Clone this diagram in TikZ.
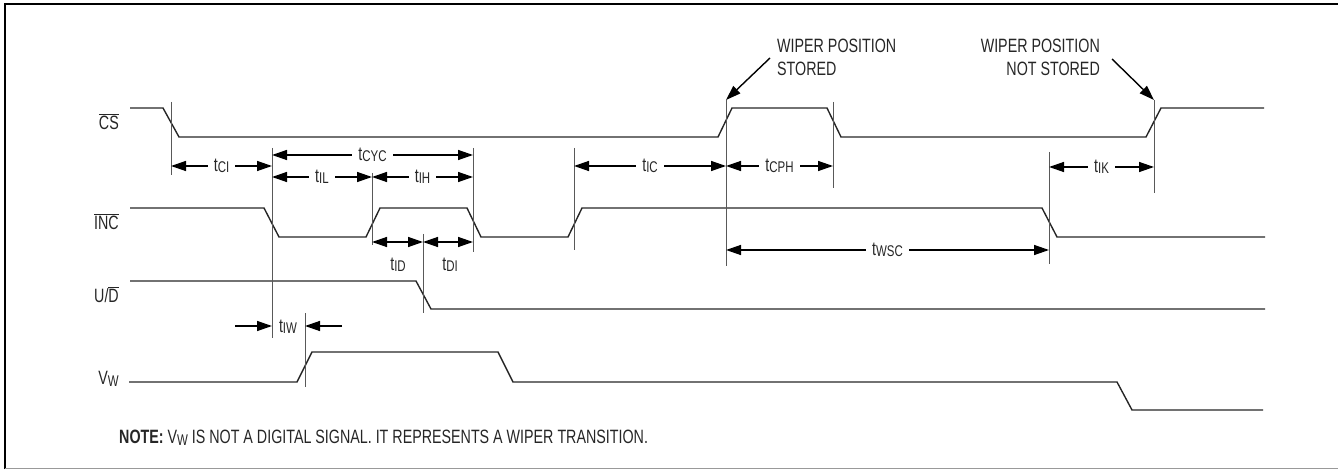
\documentclass[tikz,border=0pt]{standalone}
\usepackage{fontspec}
\setmainfont{Liberation Sans}[FakeStretch=0.74]
\usetikzlibrary{arrows.meta}
\newcommand\tsb[1]{t\raisebox{-1.5bp}{\fontsize{15.5bp}{15.5bp}\selectfont #1}}
\newcommand\vsb[1]{V\raisebox{-1.5bp}{\fontsize{15.5bp}{15.5bp}\selectfont #1}}
\newcommand\ovl[1]{\leavevmode\vbox{\hrule height 1.1bp\kern1.6bp\hbox{#1}}}
\begin{document}
\begin{tikzpicture}[x=1bp,y=-1bp,
  sig/.style={line width=1.4bp, draw=black!85, line join=miter},
  tick/.style={line width=0.9bp, draw=black!65},
  dim/.style={line width=1.4bp, {Triangle[length=15bp,width=10bp]}-{Triangle[length=15bp,width=10bp]}},
  one/.style={line width=1.4bp, -{Triangle[length=15bp,width=10bp]}},
  txt/.style={font=\fontsize{19.3bp}{23bp}\selectfont, text=black!85, inner sep=0pt},
  lbl/.style={txt, fill=white, inner xsep=6bp, inner ysep=1bp},
  sname/.style={txt, anchor=east}]
\useasboundingbox (0,0) rectangle (1338,470);
% frame
\draw[line width=2bp, black] (5,469) -- (5,4) -- (1338,4);
\draw[line width=1.2bp, black!40] (5,468.5) -- (1338,468.5);

% signal names
\node[sname] (ncs)  at (119,122) {\ovl{CS}};
\node[sname] (ninc) at (119,222) {\ovl{INC}};
\node[sname] (nud)  at (119,295) {U/\ovl{D}};
\node[sname] (nvw)  at (119,379) {\vsb{W}};

% waveforms
\draw[sig] (130,108) -- (163,108) -- (179,137) -- (718,137) -- (732,108) -- (827,108) -- (841,137) -- (1146,137) -- (1161,108) -- (1264,108);
\draw[sig] (130,208) -- (264,208) -- (279,237) -- (366,237) -- (380,208) -- (467,208) -- (481,237) -- (568,237) -- (582,208) -- (1042,208) -- (1057,237) -- (1265,237);
\draw[sig] (130,281) -- (416,281) -- (431,309) -- (1265,309);
\draw[sig] (129,382) -- (297,382) -- (312,352) -- (498,352) -- (513,382) -- (1117,382) -- (1132,410) -- (1263,410);

% reference ticks
\draw[tick] (171,102) -- (171,175);
\draw[tick] (272,148) -- (272,338);
\draw[tick] (372,173) -- (372,245);
\draw[tick] (473,148) -- (473,252);
\draw[tick] (423,234) -- (423,313);
\draw[tick] (305,313) -- (305,387);
\draw[tick] (574,148) -- (574,250);
\draw[tick] (726,100) -- (726,266);
\draw[tick] (833,102) -- (833,188);
\draw[tick] (1049,152) -- (1049,264);
\draw[tick] (1154,100) -- (1154,193);

% dimensions
\draw[dim] (171,166) -- (272,166) node[lbl,midway] (tci) {\tsb{CI}};
\draw[dim] (272,155) -- (473,155) node[lbl,midway] (tcyc) {\tsb{CYC}};
\draw[dim] (272,177) -- (372,177) node[lbl,midway] (til) {\tsb{IL}};
\draw[dim] (372,177) -- (473,177) node[lbl,midway] (tih) {\tsb{IH}};
\draw[dim] (372,242) -- (423,242);
\draw[dim] (423,242) -- (473,242);
\node[txt] (tid) at (398,265) {\tsb{ID}};
\node[txt] (tdi) at (450,265) {\tsb{DI}};
\draw[one] (235,326) -- (272,326);
\draw[one] (342,326) -- (305,326);
\node[txt] (tiw) at (288,327) {\tsb{IW}};
\draw[dim] (574,166) -- (726,166) node[lbl,midway] (tic) {\tsb{IC}};
\draw[dim] (726,166) -- (833,166) node[lbl,midway] (tcph) {\tsb{CPH}};
\draw[dim] (726,250) -- (1049,250) node[lbl,midway] (twsc) {\tsb{WSC}};
\draw[dim] (1049,167) -- (1154,167) node[lbl,midway] (tik) {\tsb{IK}};

% annotations
\node[txt, anchor=north west, align=left] (ws) at (777,39) {WIPER POSITION\\STORED};
\node[txt, anchor=north east, align=right] (wns) at (1100,39) {WIPER POSITION\\NOT STORED};
\draw[one] (770,58) -- (726,100);
\draw[one] (1112,59) -- (1154,100);

% note
\node[txt, anchor=base west] (note) at (119,443.5) {\textbf{NOTE:} \vsb{W} IS NOT A DIGITAL SIGNAL. IT REPRESENTS A WIPER TRANSITION.};
\end{tikzpicture}
\end{document}
